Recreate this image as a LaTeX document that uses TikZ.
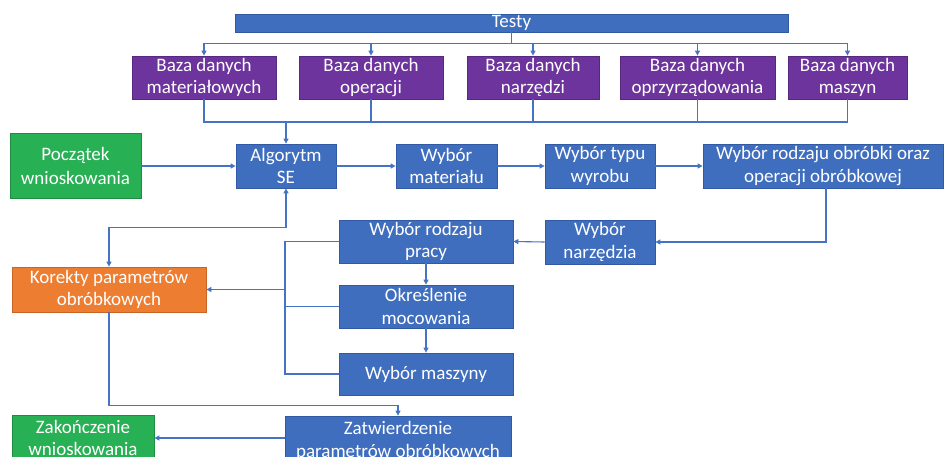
\documentclass[tikz,border=0pt]{standalone}
\usepackage{fontspec}
\setmainfont{Carlito}
\usetikzlibrary{arrows.meta}
\definecolor{boxblue}{RGB}{64,110,190}
\definecolor{boxblueedge}{RGB}{50,90,164}
\definecolor{boxpurple}{RGB}{108,52,156}
\definecolor{boxpurpleedge}{RGB}{86,40,128}
\definecolor{boxgreen}{RGB}{40,176,84}
\definecolor{boxgreenedge}{RGB}{32,140,66}
\definecolor{boxorange}{RGB}{237,125,49}
\definecolor{boxorangeedge}{RGB}{200,100,36}
\definecolor{linkblue}{RGB}{70,116,196}
\tikzset{
  box/.style={rectangle, inner sep=0pt, align=center, text=white,
    font=\fontsize{19}{22.5}\selectfont, line width=0.8pt},
  bluebox/.style={box, fill=boxblue, draw=boxblueedge},
  purplebox/.style={box, fill=boxpurple, draw=boxpurpleedge},
  greenbox/.style={box, fill=boxgreen, draw=boxgreenedge},
  orangebox/.style={box, fill=boxorange, draw=boxorangeedge},
  link/.style={draw=linkblue, line width=1.1pt},
  arr/.style={link, -{Triangle[length=5pt,width=5pt]}},
  arrboth/.style={link, {Triangle[length=5pt,width=5pt]}-{Triangle[length=5pt,width=5pt]}},
}
\begin{document}
\begin{tikzpicture}[x=1pt, y=-1pt]
\useasboundingbox (0,0) rectangle (945,456);
\clip (0,0) rectangle (945,456);

% top bar and databases
\node[bluebox, minimum width=553pt, minimum height=18pt] (testy) at (511.5,23) {Testy};
\node[purplebox, minimum width=144pt, minimum height=43pt] (b1) at (204,77.5) {Baza danych\\materiałowych};
\node[purplebox, minimum width=144pt, minimum height=43pt] (b2) at (371,77.5) {Baza danych\\operacji};
\node[purplebox, minimum width=132pt, minimum height=43pt] (b3) at (533,77.5) {Baza danych\\narzędzi};
\node[purplebox, minimum width=155pt, minimum height=43pt] (b4) at (697.5,77.5) {Baza danych\\oprzyrządowania};
\node[purplebox, minimum width=119pt, minimum height=43pt] (b5) at (847.5,77.5) {Baza danych\\maszyn};

% main chain
\node[greenbox, minimum width=131pt, minimum height=65pt] (pocz) at (75.5,166) {Początek\\[2pt]wnioskowania};
\node[bluebox, minimum width=100pt, minimum height=44pt] (alg) at (286,166) {Algorytm\\SE};
\node[bluebox, minimum width=101pt, minimum height=44pt] (mat) at (446.5,166) {Wybór\\materiału};
\node[bluebox, minimum width=110pt, minimum height=44pt] (typ) at (600,166) {Wybór typu\\wyrobu};
\node[bluebox, minimum width=240pt, minimum height=44pt] (obr) at (823,166) {Wybór rodzaju obróbki oraz\\operacji obróbkowej};

\node[bluebox, minimum width=110pt, minimum height=44pt] (narz) at (600,242) {Wybór\\narzędzia};
\node[bluebox, minimum width=174pt, minimum height=43pt] (praca) at (426,241.5) {Wybór rodzaju\\pracy};
\node[bluebox, minimum width=174pt, minimum height=43pt] (okr) at (426,306.5) {Określenie\\mocowania};
\node[bluebox, minimum width=174pt, minimum height=42pt] (masz) at (426,374) {Wybór maszyny};

\node[orangebox, minimum width=194pt, minimum height=45pt] (kor) at (109,289.5) {Korekty parametrów\\obróbkowych};
\node[bluebox, minimum width=226pt, minimum height=50pt] (zatw) at (398,441) {Zatwierdzenie\\parametrów obróbkowych};
\node[greenbox, minimum width=142pt, minimum height=46pt] (zak) at (83,438) {Zakończenie\\wnioskowania};

% distribution from the test bar to the databases
\foreach \b in {b1,b2,b3,b4,b5}
  \draw[arr] (testy.south) -- ++(0,11) -| (\b.north);

% databases collected into the algorithm
\coordinate (dbjoin) at (286,122);
\foreach \b in {b1,b2,b3,b4,b5}
  \draw[link] (\b.south) |- (dbjoin);
\draw[arr] (dbjoin) -- (alg.north);

% main flow
\draw[arr] (pocz.east) -- (alg.west);
\draw[arr] (alg.east) -- (mat.west);
\draw[arr] (mat.east) -- (typ.west);
\draw[arr] (typ.east) -- (obr.west);
\draw[arr] ([xshift=3pt]obr.south) |- (narz.east);
\draw[arr] (narz.west) -- (praca.east);
\draw[arr] (praca.south) -- (okr.north);
\draw[arr] (okr.south) -- (masz.north);

% feedback to the corrections box
\coordinate (vbot) at (285,374);
\draw[link] (praca.west) -| (vbot) -- (masz.west);
\draw[link] (okr.west) -- (okr.west -| vbot);
\draw[arr] (kor.east -| vbot) -- (kor.east);

\draw[arrboth] (alg.south) -- ++(0,39) -| (kor.north);
\draw[arr] (kor.south) -- ++(0,93) -| (zatw.north);
\draw[arr] (zatw.west |- zak.east) -- (zak.east);
\end{tikzpicture}
\end{document}
